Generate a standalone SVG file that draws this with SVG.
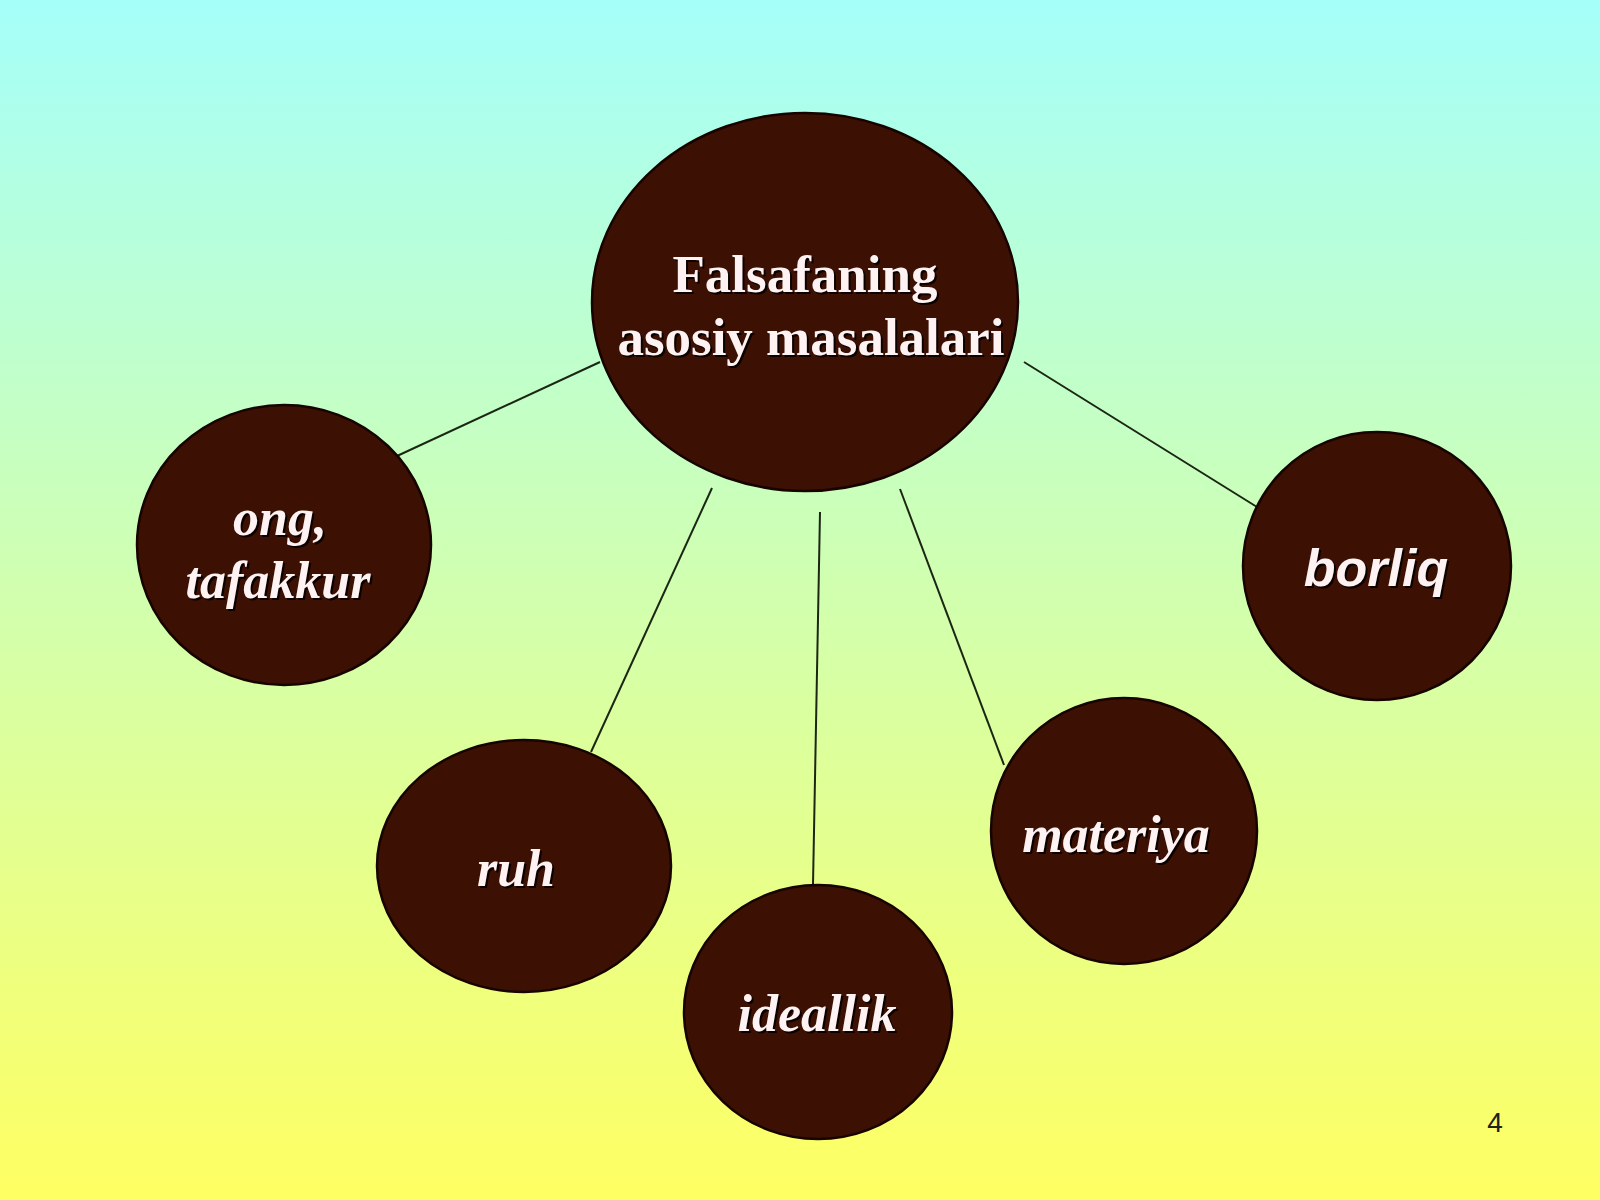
<svg xmlns="http://www.w3.org/2000/svg" width="1600" height="1200" viewBox="0 0 1600 1200">
  <defs>
    <linearGradient id="bg" x1="0" y1="0" x2="0" y2="1">
      <stop offset="0" stop-color="#a5fffa"/>
      <stop offset="1" stop-color="#ffff62"/>
    </linearGradient>
  </defs>
  <style>
    .node { fill: #3c1002; stroke: #170400; stroke-width: 2.5; }
    .conn { stroke: #1b2614; stroke-width: 2; fill: none; }
    .lbl { font-family: "Liberation Serif", "Times New Roman", serif; font-weight: bold; font-style: italic; font-size: 52px; fill: #fff2f2; text-anchor: middle; }
    .sans { font-family: "Liberation Sans", Arial, sans-serif; }
    .title { font-family: "Liberation Serif", "Times New Roman", serif; font-weight: bold; font-size: 53px; fill: #fff2f2; text-anchor: middle; }
    .shadow { fill: #0a0200; }
    .page { font-family: "Liberation Sans", Arial, sans-serif; font-size: 28px; fill: #222222; text-anchor: middle; }
  </style>
  <rect x="0" y="0" width="1600" height="1200" fill="url(#bg)"/>

  <g id="connectors">
    <line class="conn" x1="600" y1="362" x2="397" y2="456"/>
    <line class="conn" x1="712" y1="488" x2="591" y2="752"/>
    <line class="conn" x1="820" y1="512" x2="813" y2="885"/>
    <line class="conn" x1="900" y1="489" x2="1004" y2="765"/>
    <line class="conn" x1="1024" y1="362" x2="1257" y2="507"/>
  </g>

  <g id="center">
    <ellipse class="node" cx="805" cy="302" rx="213" ry="189"/>
    <text class="title shadow" x="807" y="294">Falsafaning</text>
    <text class="title shadow" x="813" y="357">asosiy masalalari</text>
    <text class="title" x="805" y="292">Falsafaning</text>
    <text class="title" x="811" y="355">asosiy masalalari</text>
  </g>

  <g id="ong">
    <ellipse class="node" cx="284" cy="545" rx="147" ry="140"/>
    <text class="lbl shadow" x="282" y="537">ong,</text>
    <text class="lbl shadow" x="280" y="600">tafakkur</text>
    <text class="lbl" x="280" y="535">ong,</text>
    <text class="lbl" x="278" y="598">tafakkur</text>
  </g>

  <g id="ruh">
    <ellipse class="node" cx="524" cy="866" rx="147" ry="126"/>
    <text class="lbl shadow" x="518" y="888">ruh</text>
    <text class="lbl" x="516" y="886">ruh</text>
  </g>

  <g id="ideallik">
    <ellipse class="node" cx="818" cy="1012" rx="134" ry="127"/>
    <text class="lbl shadow" x="819" y="1033" font-size="53">ideallik</text>
    <text class="lbl" x="817" y="1031" font-size="53">ideallik</text>
  </g>

  <g id="materiya">
    <ellipse class="node" cx="1124" cy="831" rx="133" ry="133"/>
    <text class="lbl shadow" x="1118" y="854" font-size="53">materiya</text>
    <text class="lbl" x="1116" y="852" font-size="53">materiya</text>
  </g>

  <g id="borliq">
    <ellipse class="node" cx="1377" cy="566" rx="134" ry="134"/>
    <text class="lbl sans shadow" x="1378" y="588">borliq</text>
    <text class="lbl sans" x="1376" y="586">borliq</text>
  </g>

  <text class="page" x="1495" y="1132">4</text>
</svg>
